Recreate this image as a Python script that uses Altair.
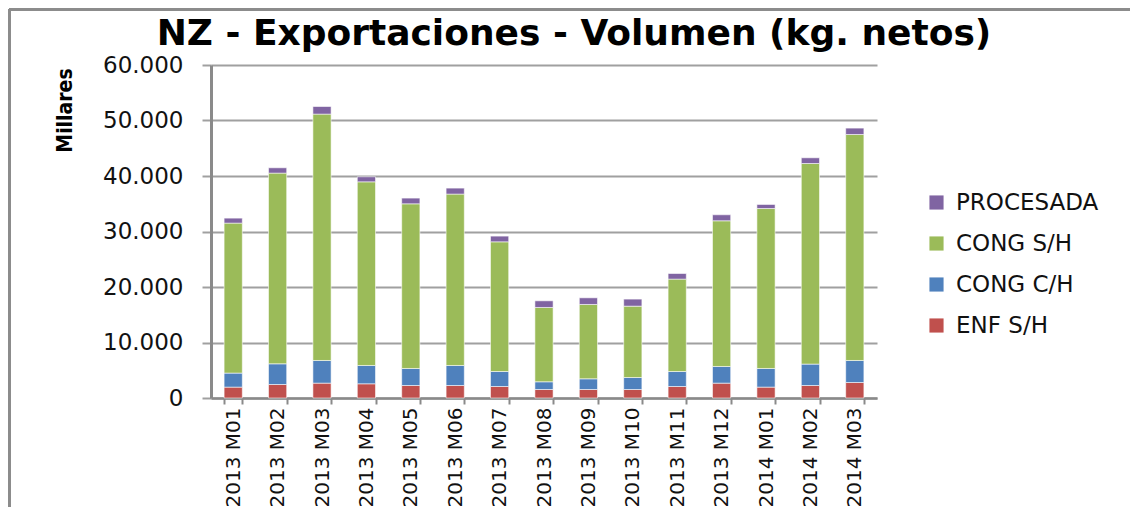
import altair as alt
import pandas as pd

months = ["2013 M01", "2013 M02", "2013 M03", "2013 M04", "2013 M05", "2013 M06",
          "2013 M07", "2013 M08", "2013 M09", "2013 M10", "2013 M11", "2013 M12",
          "2014 M01", "2014 M02", "2014 M03"]
enf_sh = [1960, 2430, 2680, 2560, 2250, 2250, 2070, 1530, 1530, 1530, 2070, 2680, 1960, 2250, 2790]
cong_ch = [2530, 3730, 4080, 3300, 3070, 3610, 2700, 1390, 1930, 2160, 2700, 3000, 3360, 3860, 3970]
cong_sh = [27020, 34360, 44390, 33090, 29670, 30880, 23370, 13390, 13390, 12860, 16650, 26250, 28820, 36140, 40720]
procesada = [900, 960, 1370, 910, 1030, 1080, 1030, 1200, 1200, 1270, 1010, 1080, 730, 1030, 1150]

series_names = ["ENF S/H", "CONG C/H", "CONG S/H", "PROCESADA"]
series_vals = [enf_sh, cong_ch, cong_sh, procesada]
legend_order = ["PROCESADA", "CONG S/H", "CONG C/H", "ENF S/H"]
legend_colors = ["#8064A2", "#9BBB59", "#4F81BD", "#C0504D"]

rows = []
for si, (name, vals) in enumerate(zip(series_names, series_vals)):
    for m, v in zip(months, vals):
        rows.append({"mes": m, "serie": name, "valor": v, "orden": si})
df = pd.DataFrame(rows)

W, H = 666, 333
PL, PT, PR, PB = 203, 57, 253, 109

bars = alt.Chart(df).mark_bar(stroke="#ffffff", strokeWidth=0.8, strokeOpacity=0.7).encode(
    x=alt.X("mes:N", sort=months,
            scale=alt.Scale(paddingInner=0.59, paddingOuter=0.295),
            axis=alt.Axis(title=None, labelAngle=-90, labelAlign="right", labelBaseline="middle",
                          labelFont="DejaVu Sans", labelFontSize=20, labelColor="#111111",
                          labelPadding=3, tickBand="extent", tickSize=6, tickWidth=2,
                          tickColor="#8a8a8a", domainColor="#8a8a8a", domainWidth=2.5,
                          grid=False)),
    y=alt.Y("valor:Q", stack="zero",
            scale=alt.Scale(domain=[0, 60000], nice=False),
            axis=alt.Axis(title="Millares", values=[0, 10000, 20000, 30000, 40000, 50000, 60000],
                          labelExpr="replace(format(datum.value, ','), ',', '.')",
                          labelFont="DejaVu Sans", labelFontSize=23, labelColor="#111111",
                          labelPadding=19, tickSize=9, tickWidth=2, tickColor="#a0a0a0",
                          domainColor="#8a8a8a", domainWidth=3,
                          grid=True, gridColor="#a0a0a0", gridWidth=2,
                          titleFont="DejaVu Sans Condensed, Liberation Sans Narrow, Roboto Condensed, Liberation Sans",
                          titleFontWeight="bold",
                          titleFontSize=21, titleColor="#000000", titleAngle=-90,
                          titleAlign="center", titleBaseline="middle",
                          titleX=-146, titleY=45)),
    color=alt.Color("serie:N",
                    scale=alt.Scale(domain=legend_order, range=legend_colors),
                    legend=alt.Legend(title=None, orient="none", legendX=714, legendY=126,
                                      symbolType="square", symbolSize=200, symbolStrokeWidth=0,
                                      labelFont="DejaVu Sans", labelFontSize=23,
                                      labelColor="#111111", labelOffset=8, rowPadding=17)),
    order=alt.Order("orden:Q", sort="ascending"),
)

frame_top = alt.Chart(df).mark_rule(color="#8c8c8c", strokeWidth=2.5).encode(
    x=alt.value(-PL + 1), x2=alt.value(W + PR), y=alt.value(-PT + 1))
frame_left = alt.Chart(df).mark_rule(color="#8c8c8c", strokeWidth=2.5).encode(
    x=alt.value(-PL + 1), y=alt.value(-PT + 1), y2=alt.value(H + PB))

chart = alt.layer(bars, frame_top, frame_left).properties(
    width=W, height=H,
    title=alt.TitleParams("NZ - Exportaciones - Volumen (kg. netos)", font="DejaVu Sans",
                          fontSize=36, fontWeight="bold", color="#000000",
                          anchor="middle", frame="group", dx=30, dy=53, offset=8),
    autosize=alt.AutoSizeParams(type="none"),
    padding={"left": PL, "top": PT, "right": PR, "bottom": PB},
).configure_view(stroke=None)

chart.save("out.html", embed_options={"renderer": "svg", "actions": False})
